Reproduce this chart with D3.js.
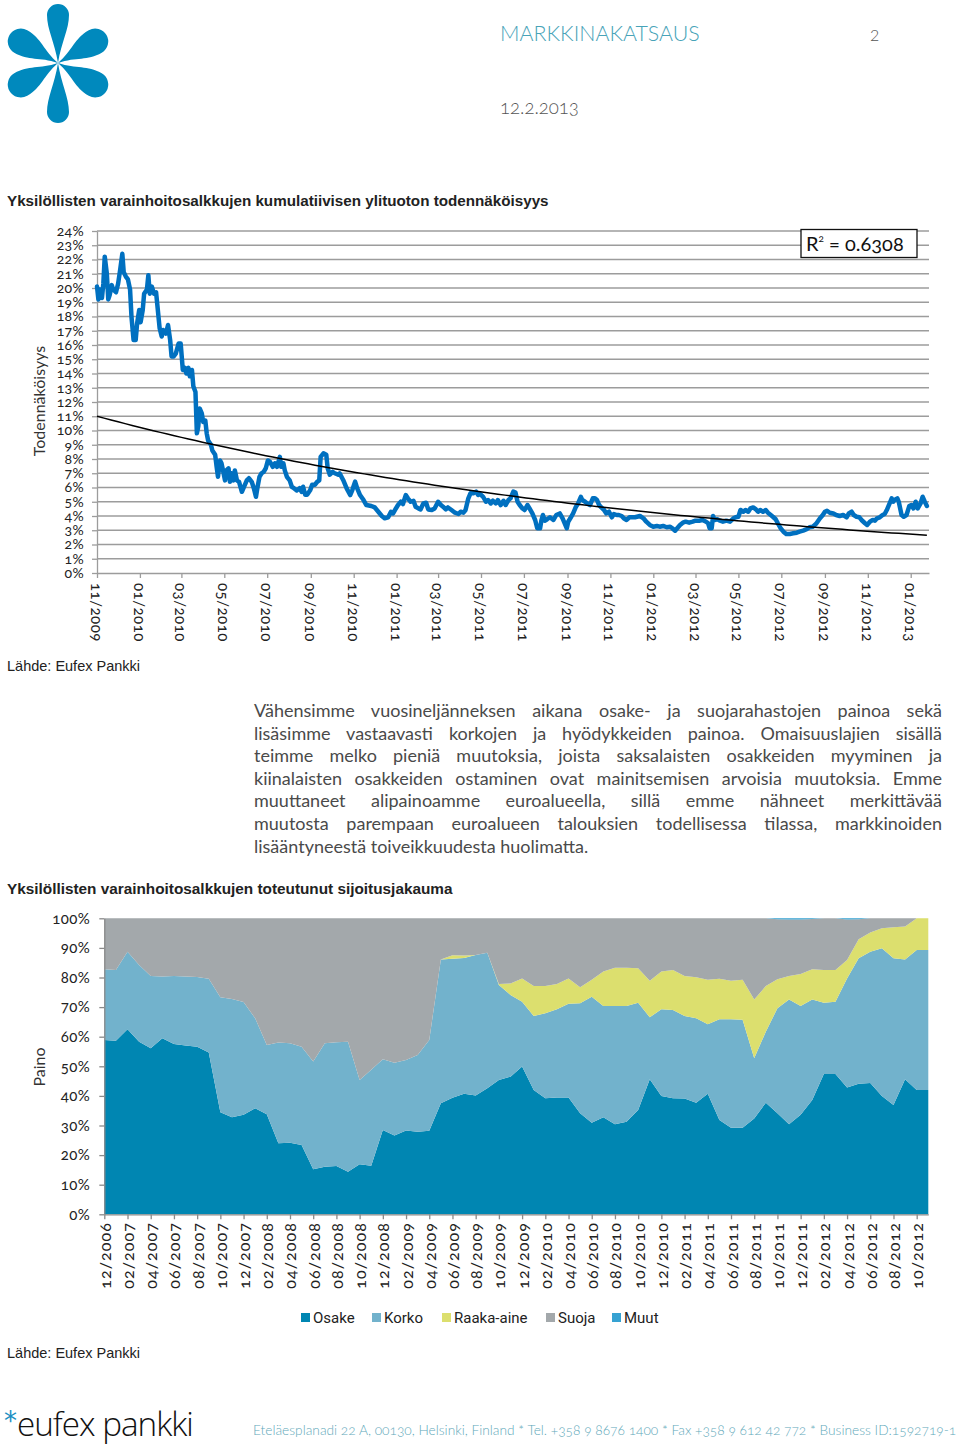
<!DOCTYPE html>
<html><head><meta charset="utf-8">
<script src="https://cdn.jsdelivr.net/npm/d3@7"></script>
<style>
body{margin:0;background:#fff;}
#page{position:relative;width:960px;height:1450px;overflow:hidden;}
svg{position:absolute;left:0;top:0;}
#para{position:absolute;left:254px;top:699px;width:688px;font-family:Lato,'Open Sans',sans-serif;font-size:18px;line-height:22.6px;color:#4a4a4a;}
#para div{text-align:justify;text-align-last:justify;white-space:nowrap;}
#para div.last{text-align-last:left;}
</style></head>
<body><div id="page"><svg id="svg" width="960" height="1450"></svg><div id="para"></div></div>
<script>
// ---------------- DATA ----------------
const probTitle = "Yksilöllisten varainhoitosalkkujen kumulatiivisen ylituoton todennäköisyys";
const probTicks = ["11/2009","01/2010","03/2010","05/2010","07/2010","09/2010","11/2010","01/2011","03/2011","05/2011","07/2011","09/2011","11/2011","01/2012","03/2012","05/2012","07/2012","09/2012","11/2012","01/2013"];
const probYTicks = [0,1,2,3,4,5,6,7,8,9,10,11,12,13,14,15,16,17,18,19,20,21,22,23,24];
const probStart = "2009-11-01";
const probEnd = "2013-01-27";
const rSquared = "0.6308";
// exponential trendline read at its two ends (%)
const trendStartValue = 11.0;
const trendEndValue = 2.65;
// [days since probStart, probability %]
const probSeries = [
[0,20.1],[2,19.2],[4,19.9],[7,19.3],[9,20.3],[11,22.2],[14,21.0],[16,19.2],[18,19.5],[21,20.2],[23,19.9],[27,19.7],[30,20.3],[33,21.3],[36,22.4],[38,21.1],[41,20.8],[44,20.6],[47,19.9],[49,18.0],[52,16.35],[55,16.35],[57,17.5],[60,18.45],[62,17.6],[65,18.45],[67,19.6],[71,19.9],[73,20.9],[75,19.6],[78,20.1],[81,19.6],[84,19.7],[86,18.7],[89,17.2],[92,16.6],[94,17.05],[98,16.8],[101,17.4],[104,16.35],[106,15.2],[109,15.2],[112,15.4],[116,16.1],[119,16.1],[122,14.25],[125,14.4],[127,14.0],[130,14.4],[132,13.8],[135,14.25],[137,13.1],[140,12.7],[142,9.8],[144,10.3],[146,11.55],[149,11.2],[151,10.6],[154,10.7],[156,9.8],[158,9.3],[162,9.0],[164,8.6],[168,8.3],[170,7.5],[172,6.75],[175,7.9],[177,7.7],[180,7.0],[182,6.5],[184,7.2],[187,7.35],[189,6.4],[191,7.0],[194,6.5],[196,7.2],[199,6.5],[202,6.4],[206,5.7],[209,6.05],[213,6.5],[216,6.65],[220,6.4],[223,5.95],[226,5.35],[228,5.95],[231,6.75],[234,7.0],[237,7.1],[240,7.35],[243,7.9],[246,7.8],[250,7.45],[253,7.7],[256,7.45],[260,8.15],[262,7.45],[265,7.7],[267,7.2],[270,6.75],[274,6.5],[277,6.05],[280,5.95],[284,5.8],[288,5.95],[291,5.7],[293,6.05],[296,5.5],[299,5.5],[303,5.8],[306,6.2],[310,6.2],[313,6.4],[316,6.5],[318,8.15],[322,8.4],[326,8.3],[328,7.35],[331,6.9],[335,7.1],[338,7.0],[343,6.9],
[345,6.99],[350,6.53],[355,5.94],[360,5.47],[363,5.82],[367,6.41],[370,5.94],[374,5.47],[379,5.12],[383,4.77],[390,4.70],[395,4.60],[400,4.30],[405,4.00],[409,3.84],[414,3.91],[418,4.30],[421,4.18],[425,4.53],[428,4.77],[432,5.00],[435,4.84],[439,5.47],[442,5.24],[446,5.00],[450,5.07],[453,4.65],[457,4.53],[460,4.46],[464,4.88],[468,4.93],[471,4.46],[476,4.42],[480,4.53],[485,5.00],[489,4.77],[492,4.65],[496,4.46],[499,4.60],[504,4.42],[509,4.23],[514,4.14],[517,4.30],[521,4.23],[524,4.42],[528,5.24],[531,5.59],[535,5.59],[539,5.71],[542,5.47],[545,5.54],[549,5.35],[553,5.00],[556,5.12],[560,4.88],[563,5.07],[567,4.88],[570,5.12],[574,4.77],[578,5.07],[581,4.77],[585,5.12],[588,5.24],[592,5.71],[595,5.64],[598,5.00],[601,4.77],[605,4.53],[608,4.42],[612,4.77],[615,4.53],[619,4.18],[623,3.72],[626,3.14],[630,3.14],[632,3.72],[634,4.07],[637,3.67],[640,3.77],[644,3.91],[649,3.72],[653,4.07],[658,4.18],[662,3.84],[665,3.49],[668,3.14],[670,3.60],[673,3.84],[677,4.18],[681,4.65],[684,4.88],[688,5.35],[690,5.12],[694,5.00],[697,4.88],[701,4.77],[705,5.24],[708,5.24],[711,5.12],[714,4.77],[717,4.60],[721,4.42],[724,4.18],[728,4.30],[732,3.91],[735,4.14],[739,4.07],[742,4.07],[746,4.00],[749,3.84],[753,3.72],[757,3.91],
[765,3.91],[772,4.00],[777,3.84],[781,3.60],[786,3.37],[791,3.25],[796,3.30],[800,3.25],[805,3.30],[810,3.21],[815,3.25],[818,3.14],[822,2.97],[825,3.14],[829,3.37],[833,3.53],[837,3.60],[842,3.53],[847,3.60],[851,3.67],[856,3.67],[861,3.72],[866,3.60],[869,3.49],[871,3.14],[874,3.14],[876,4.00],[878,3.72],[882,3.77],[886,3.67],[890,3.60],[895,3.67],[900,3.60],[905,3.84],[908,3.91],[912,3.95],[915,4.42],[919,4.30],[922,4.42],[926,4.30],[929,4.53],[933,4.60],[937,4.46],[940,4.30],[943,4.42],[947,4.30],[951,4.42],[954,4.23],[958,4.07],[961,3.95],[965,3.77],[968,3.49],[972,3.14],[976,2.90],[980,2.74],[985,2.74],[990,2.79],[995,2.83],[999,2.90],[1004,2.97],[1009,3.07],[1013,3.21],[1018,3.25],[1023,3.49],[1028,3.84],[1032,4.07],[1035,4.30],[1038,4.37],[1042,4.23],[1047,4.18],[1051,4.07],[1056,4.00],[1061,4.07],[1066,3.91],[1069,4.18],[1073,4.30],[1076,4.07],[1080,3.95],[1084,3.91],[1087,3.72],[1092,3.49],[1095,3.37],[1099,3.60],[1103,3.72],[1106,3.67],[1109,3.84],[1113,3.91],[1117,4.07],[1120,4.14],[1123,4.42],[1127,4.88],[1130,5.24],[1132,5.00],[1134,5.12],[1138,5.24],[1140,5.00],[1144,4.07],[1147,3.95],[1151,4.07],[1155,4.70],[1158,4.77],[1161,4.53],[1164,5.00],[1167,4.53],[1171,4.88],[1174,5.35],[1177,5.00],[1180,4.70]
];

const allocTitle = "Yksilöllisten varainhoitosalkkujen toteutunut sijoitusjakauma";
const allocMonths = ["12/2006",
"01/2007","02/2007","03/2007","04/2007","05/2007","06/2007","07/2007","08/2007","09/2007","10/2007","11/2007","12/2007",
"01/2008","02/2008","03/2008","04/2008","05/2008","06/2008","07/2008","08/2008","09/2008","10/2008","11/2008","12/2008",
"01/2009","02/2009","03/2009","04/2009","05/2009","06/2009","07/2009","08/2009","09/2009","10/2009","11/2009","12/2009",
"01/2010","02/2010","03/2010","04/2010","05/2010","06/2010","07/2010","08/2010","09/2010","10/2010","11/2010","12/2010",
"01/2011","02/2011","03/2011","04/2011","05/2011","06/2011","07/2011","08/2011","09/2011","10/2011","11/2011","12/2011",
"01/2012","02/2012","03/2012","04/2012","05/2012","06/2012","07/2012","08/2012","09/2012","10/2012","11/2012"];
const allocYTicks = [0,10,20,30,40,50,60,70,80,90,100];
const allocKeys = ["Osake","Korko","Raaka-aine","Suoja","Muut"];
const osake = [58.9,58.6,62.5,58.3,56.1,59.5,57.5,57.0,56.6,54.7, 34.5,32.8,33.6,35.8,33.8,24.0,24.2,23.4,15.2,16.1, 16.3,14.4,16.9,16.4,28.5,26.6,28.3,27.9,28.2,37.5, 39.4,40.7,40.1,42.6,45.4,46.5,49.9,42.0,39.2,39.5, 39.5,34.1,30.9,32.8,30.4,31.3,35.2,45.6,40.0,39.2, 39.1,37.7,40.7,31.9,29.2,29.2,32.4,37.7,34.1,30.4, 33.6,38.6,47.4,47.4,42.8,44.1,44.4,40.0,36.9,45.6, 42.0,42.0];
const korko = [23.9,23.9,26.2,25.9,24.4,20.8,23.0,23.3,23.6,24.9, 38.8,39.9,38.1,30.4,23.4,34.0,33.6,33.2,36.4,41.7, 41.8,43.9,28.5,32.4,23.9,24.6,23.8,25.9,30.7,48.6, 46.9,45.9,47.5,45.8,32.1,27.6,21.9,25.0,28.7,29.8, 31.6,37.2,42.6,37.6,40.0,39.1,36.3,21.0,29.3,29.8, 27.9,28.5,23.5,34.0,36.7,36.5,20.3,24.0,35.5,42.2, 36.8,34.0,24.1,24.4,36.9,42.4,44.3,49.9,49.6,40.5, 47.3,47.3];
const raaka = [0,0,0,0,0,0,0,0,0,0, 0,0,0,0,0,0,0,0,0,0, 0,0,0,0,0,0,0,0,0,0, 1.2,0.8,0,0,0.3,3.9,7.9,10.1,9.2,8.5, 8.6,5.4,5.7,11.6,12.9,12.9,11.6,12.3,12.7,13.5, 13.5,13.9,15.0,13.7,13.0,13.5,19.9,15.4,9.8,7.9, 10.8,10.2,11.0,10.7,6.2,6.4,6.5,6.7,10.5,11.1, 10.7,10.7];
const suoja = [17.2,17.5,11.3,15.8,19.5,19.7,19.5,19.7,19.8,20.4, 26.7,27.3,28.3,33.8,42.8,42.0,42.2,43.4,48.4,42.2, 41.9,41.7,54.6,51.2,47.6,48.8,47.9,46.2,41.1,13.9, 12.5,12.6,12.4,11.6,22.2,22.0,20.3,22.9,22.9,22.2, 20.3,23.3,20.8,18.0,16.7,16.7,16.9,21.1,18.0,17.5, 19.5,19.9,20.8,20.4,21.1,20.8,27.4,22.9,20.3,19.1, 18.4,17.0,17.5,17.5,13.7,6.8,4.8,3.4,3.0,2.8, 0,0];
const muut = [0,0,0,0,0,0,0,0,0,0, 0,0,0,0,0,0,0,0,0,0, 0,0,0,0,0,0,0,0,0,0, 0,0,0,0,0,0,0,0,0,0, 0,0,0,0,0,0,0,0,0,0, 0,0,0,0,0,0,0,0,0.3,0.4, 0.4,0.2,0,0,0.4,0.3,0,0,0,0, 0,0];
const allocColors = ["#0086b2","#72b2cc","#dcdf6e","#a3a8ab","#36a2d2"];

const sourceText = "Lähde: Eufex Pankki";
const paraLines = [
"Vähensimme vuosineljänneksen aikana osake- ja suojarahastojen painoa sekä",
"lisäsimme vastaavasti korkojen ja hyödykkeiden painoa. Omaisuuslajien sisällä",
"teimme melko pieniä muutoksia, joista saksalaisten osakkeiden myyminen ja",
"kiinalaisten osakkeiden ostaminen ovat mainitsemisen arvoisia muutoksia. Emme",
"muuttaneet alipainoamme euroalueella, sillä emme nähneet merkittävää",
"muutosta parempaan euroalueen talouksien todellisessa tilassa, markkinoiden",
"lisääntyneestä toiveikkuudesta huolimatta."];
const footerText = "Eteläesplanadi 22 A, 00130, Helsinki, Finland * Tel. +358 9 8676 1400 * Fax +358 9 612 42 772 * Business ID:1592719-1";

// ---------------- DRAW ----------------
const FONT = "Lato, 'Open Sans', sans-serif";
const svg = d3.select("#svg");
function fitW(sel, w){ const cur = sel.node().getComputedTextLength(); const fs = parseFloat(sel.attr("font-size")); sel.attr("font-size", fs*w/cur); return sel; }

// header logo
const logo = svg.append("g").attr("transform","translate(58,63)").attr("fill","#0089bd");
function petal(L,r){ return `M0,0 C${r*0.3},${-L*0.35} ${r},${-(L-r*2.3)} ${r},${-(L-r)} A${r},${r} 0 0 0 ${-r},${-(L-r)} C${-r},${-(L-r*2.3)} ${-r*0.3},${-L*0.35} 0,0Z`; }
[[0,59,11],[180,60,11],[-60,56,13],[60,56,13],[-120,56,13],[120,56,13]].forEach(([a,L,r])=>{
  logo.append("path").attr("d",petal(L,r)).attr("transform",`rotate(${a})`);
});
fitW(svg.append("text").attr("x",500).attr("y",41).attr("font-family",FONT).attr("font-weight",300).attr("font-size",22).attr("fill","#48a3b8").text("MARKKINAKATSAUS"),200);
svg.append("text").attr("x",870).attr("y",41).attr("font-family",FONT).attr("font-weight",300).attr("font-size",16).attr("fill","#555").text("2");
fitW(svg.append("text").attr("x",500).attr("y",114).attr("font-family",FONT).attr("font-weight",300).attr("font-size",18).attr("fill","#555").style("font-variant-numeric","oldstyle-nums").text("12.2.2013"),79);

// ---- chart 1 ----
fitW(svg.append("text").attr("x",7).attr("y",206).attr("font-family","'Liberation Sans',Arial,sans-serif").attr("font-weight","bold").attr("font-size",15).attr("fill","#222").text(probTitle),542);

const parseDay = d3.timeParse("%Y-%m-%d");
const parseMY = d3.timeParse("%m/%Y");
const t0 = parseDay(probStart);
const pts = probSeries.map(d=>({date:d3.timeDay.offset(t0,d[0]), v:d[1]}));
const x1 = d3.scaleTime().domain([t0, parseDay(probEnd)]).range([97,929]);
const y1 = d3.scaleLinear().domain([0,24]).range([573,231]);
const g1 = svg.append("g");
const GRID = "#9c9c9c";
g1.selectAll("line.grid").data(probYTicks.filter(d=>d>0)).join("line").attr("class","grid")
  .attr("x1",97).attr("x2",929).attr("y1",d=>y1(d)).attr("y2",d=>y1(d)).attr("stroke",GRID).attr("stroke-width",1.3);
const ay1 = g1.append("g").attr("transform","translate(97,0)")
  .call(d3.axisLeft(y1).tickValues(probYTicks).tickSize(5).tickSizeOuter(0).tickFormat(d=>d+"%"));
ay1.select(".domain").attr("stroke",GRID).attr("stroke-width",1.3);
ay1.selectAll(".tick line").attr("stroke",GRID).attr("stroke-width",1.3);
ay1.selectAll(".tick text").attr("x",-13).attr("font-family",FONT).attr("font-size",14).attr("letter-spacing",0.3).attr("fill","#222").style("font-variant-numeric","oldstyle-nums");
const ax1 = g1.append("g").attr("transform","translate(0,573)")
  .call(d3.axisBottom(x1).tickValues(probTicks.map(parseMY)).tickSize(5).tickSizeOuter(0).tickFormat(""));
ax1.select(".domain").attr("stroke",GRID).attr("stroke-width",1.3);
ax1.selectAll(".tick line").attr("stroke",GRID).attr("stroke-width",1.3);
g1.selectAll("text.xl").data(probTicks).join("text").attr("class","xl")
  .attr("transform",d=>`translate(${x1(parseMY(d))},583) rotate(90)`)
  .attr("dominant-baseline","central").attr("font-family",FONT).attr("font-size",15).attr("letter-spacing",0.5).attr("fill","#222")
  .style("font-variant-numeric","oldstyle-nums").text(d=>d);
svg.append("text").attr("transform","translate(45,401) rotate(-90)").attr("text-anchor","middle")
  .attr("font-family",FONT).attr("font-size",16).attr("fill","#333").text("Todennäköisyys");

g1.append("path").datum(pts).attr("fill","none").attr("stroke","#0070c0").attr("stroke-width",4.5)
  .attr("stroke-linejoin","round").attr("stroke-linecap","round")
  .attr("d",d3.line().x(d=>x1(d.date)).y(d=>y1(d.v)));
// exponential trendline through its read end values
const tFirst = probSeries[0][0], tLast = probSeries[probSeries.length-1][0];
const kTrend = Math.log(trendEndValue/trendStartValue)/(tLast-tFirst);
const tr = d3.range(tFirst, tLast, 10).concat([tLast]);
g1.append("path").attr("fill","none").attr("stroke","#000").attr("stroke-width",1.5)
  .attr("d",d3.line().x(d=>x1(d3.timeDay.offset(t0,d))).y(d=>y1(trendStartValue*Math.exp(kTrend*(d-tFirst))))(tr));
// R² box
g1.append("rect").attr("x",801).attr("y",229.5).attr("width",116).attr("height",28).attr("fill","#fff").attr("stroke","#111").attr("stroke-width",1.3);
const rt = g1.append("text").attr("x",806).attr("y",251).attr("font-family",FONT).attr("font-size",20).attr("fill","#111").style("font-variant-numeric","oldstyle-nums");
rt.append("tspan").text("R");
rt.append("tspan").attr("font-size",10).attr("dy",-9).text("2");
rt.append("tspan").attr("dy",9).text(" = " + rSquared);

svg.append("text").attr("x",7).attr("y",671).attr("font-family","'Liberation Sans',Arial,sans-serif").attr("font-size",14.5).attr("fill","#222").text(sourceText);

// ---- paragraph ----
const para = d3.select("#para");
paraLines.forEach((l,i)=>para.append("div").attr("class", i===paraLines.length-1?"last":null).text(l));

// ---- chart 2 ----
fitW(svg.append("text").attr("x",7).attr("y",894).attr("font-family","'Liberation Sans',Arial,sans-serif").attr("font-weight","bold").attr("font-size",15).attr("fill","#222").text(allocTitle),446);
const x2 = d3.scalePoint().domain(allocMonths).range([104.3,928.3]);
const y2 = d3.scaleLinear().domain([0,100]).range([1214.3,918.3]);
const series = [osake,korko,raaka,suoja,muut];
const table = allocMonths.map((m,i)=>{ const o={month:m}; allocKeys.forEach((k,j)=>o[k]=series[j][i]); return o; });
const stacked = d3.stack().keys(allocKeys)(table);
const g2 = svg.append("g");
g2.selectAll("path.area").data(stacked).join("path").attr("class","area")
  .attr("fill",(d,i)=>allocColors[i])
  .attr("d",d3.area().x(d=>x2(d.data.month)).y0(d=>y2(d[0])).y1(d=>y2(d[1])));
const AX2 = "#8a8a8a";
const ay2 = g2.append("g").attr("transform","translate(104.3,0)")
  .call(d3.axisLeft(y2).tickValues(allocYTicks).tickSize(5).tickSizeOuter(0).tickFormat(d=>d+"%"));
ay2.select(".domain").attr("stroke",AX2).attr("stroke-width",1.3);
ay2.selectAll(".tick line").attr("stroke",AX2).attr("stroke-width",1.3);
ay2.selectAll(".tick text").attr("x",-14).attr("font-family",FONT).attr("font-size",15).attr("letter-spacing",0.4).attr("fill","#222").style("font-variant-numeric","oldstyle-nums");
const allocTicks = allocMonths.filter((d,i)=>i%2===0);
const ax2 = g2.append("g").attr("transform","translate(0,1214.3)")
  .call(d3.axisBottom(x2).tickValues(allocTicks).tickSize(5).tickSizeOuter(0).tickFormat(""));
ax2.select(".domain").attr("stroke",AX2).attr("stroke-width",1.3);
ax2.selectAll(".tick line").attr("stroke",AX2).attr("stroke-width",1.3);
g2.selectAll("text.xl").data(allocTicks).join("text").attr("class","xl")
  .attr("transform",d=>`translate(${x2(d)},1222) rotate(-90)`).attr("text-anchor","end")
  .attr("dominant-baseline","central").attr("font-family",FONT).attr("font-size",16).attr("letter-spacing",1.1).attr("fill","#222")
  .style("font-variant-numeric","oldstyle-nums").text(d=>d);
svg.append("text").attr("transform","translate(45,1067) rotate(-90)").attr("text-anchor","middle")
  .attr("font-family",FONT).attr("font-size",16).attr("fill","#333").text("Paino");
// legend
const legX = [301,372,442,546,612];
const leg = g2.selectAll("g.leg").data(allocKeys).join("g").attr("class","leg").attr("transform",(d,i)=>`translate(${legX[i]},1313)`);
leg.append("rect").attr("width",9).attr("height",9).attr("fill",(d,i)=>allocColors[i]);
leg.append("text").attr("x",12).attr("y",10).attr("font-family","Roboto,sans-serif").attr("font-size",15).attr("fill","#222").text(d=>d);
svg.append("text").attr("x",7).attr("y",1358).attr("font-family","'Liberation Sans',Arial,sans-serif").attr("font-size",14.5).attr("fill","#222").text(sourceText);

// ---- footer ----
svg.append("text").attr("x",4).attr("y",1430).attr("font-family","'DejaVu Sans',sans-serif").attr("font-size",26).attr("fill","#1b8fc2").text("*");
fitW(svg.append("text").attr("x",17).attr("y",1436).attr("font-family","'Open Sans',sans-serif").attr("font-weight",300).attr("font-size",40).attr("fill","#111").attr("letter-spacing",-1).text("eufex pankki"),178);
fitW(svg.append("text").attr("x",253).attr("y",1435).attr("font-family",FONT).attr("font-weight",300).attr("font-size",13).attr("fill","#5fa9ba").style("font-variant-numeric","oldstyle-nums").text(footerText),704);
</script>
</body></html>
